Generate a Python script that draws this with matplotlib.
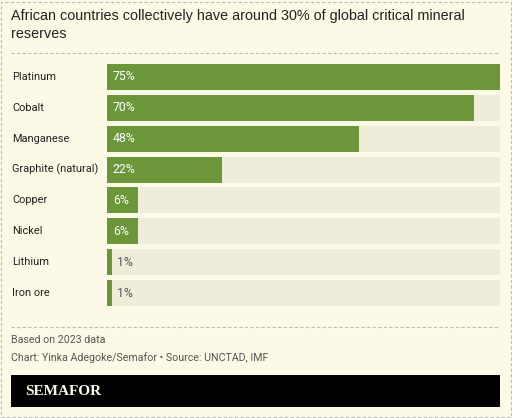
import matplotlib
matplotlib.use("Agg")
import matplotlib.pyplot as plt
from matplotlib.patches import Rectangle
from matplotlib.transforms import blended_transform_factory

categories = ["Platinum", "Cobalt", "Manganese", "Graphite (natural)", "Copper", "Nickel", "Lithium", "Iron ore"]
values = [75, 70, 48, 22, 6, 6, 1, 1]
max_value = 75

W, H = 512, 418
BG = "#FCFAE6"
TRACK = "#EFEDDA"
GREEN = "#6B973A"
TXT = "#222222"
GRAY = "#555555"

fig = plt.figure(figsize=(W / 100, H / 100), dpi=100)
fig.patch.set_facecolor(BG)

def fx(px):
    return px / W

def fy(py):
    return 1 - py / H

# outer dashed border
fig.patches.append(Rectangle((fx(1), fy(417)), fx(510), 415 / H, transform=fig.transFigure,
                             fill=False, edgecolor="#BBBBBB", linestyle=(0, (3, 2)), linewidth=0.8))

# title
fig.text(fx(11), fy(9), "African countries collectively have around 30% of global critical mineral\nreserves",
         fontsize=10.4, family="Liberation Sans", color=TXT, ha="left", va="top", linespacing=1.4)

# dashed separators
for y in (53, 327):
    fig.add_artist(plt.Line2D([fx(11), fx(500)], [fy(y), fy(y)], transform=fig.transFigure,
                              color="#BBBBBB", linestyle=(0, (3, 2)), linewidth=0.8))

# bars axes
top, bottom = 61.5, 308.5
ax = fig.add_axes([fx(107), fy(bottom), fx(500) - fx(107), (bottom - top) / H])
ax.set_facecolor("none")
n = len(categories)
ypos = list(range(n))
ax.barh(ypos, [max_value] * n, height=0.84, color=TRACK, linewidth=0)
ax.barh(ypos, values, height=0.84, color=GREEN, linewidth=0)
ax.set_xlim(0, max_value)
ax.set_ylim(n - 0.5, -0.5)
ax.axis("off")

trans = blended_transform_factory(fig.transFigure, ax.transData)
for i, (c, v) in enumerate(zip(categories, values)):
    ax.text(fx(12), i, c, transform=trans, fontsize=7.9, family="Roboto", color=TXT,
            ha="left", va="center")
    if v >= 5:
        ax.text(1.1, i, f"{v}%", fontsize=8.8, family="Roboto", color="white", ha="left", va="center")
    else:
        ax.text(v + 1.0, i, f"{v}%", fontsize=8.8, family="Roboto", color=GRAY, ha="left", va="center")

# footer
fig.text(fx(11), fy(340), "Based on 2023 data", fontsize=7.7, family="Roboto", color=GRAY, ha="left", va="center")
fig.text(fx(11), fy(358), "Chart: Yinka Adegoke/Semafor \u2022 Source: UNCTAD, IMF", fontsize=7.7,
         family="Roboto", color=GRAY, ha="left", va="center")

fig.patches.append(Rectangle((fx(11), fy(407)), fx(500) - fx(11), 32 / H, transform=fig.transFigure,
                             facecolor="black", edgecolor="none"))
fig.text(fx(25), fy(391.5), "SEMAFOR", fontsize=11, family="Liberation Serif", weight="bold",
         color="#FCFAE6", ha="left", va="center")

fig.savefig("out.png", dpi=100, facecolor=BG)
